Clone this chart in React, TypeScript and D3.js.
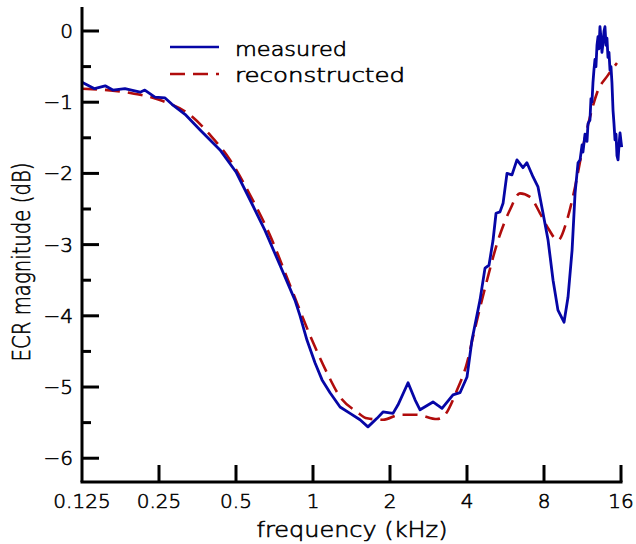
import React from "react";
import * as d3 from "d3";

// ---- data (frequency in kHz, magnitude in dB) ----
const measuredFreq = [
  0.125, 0.14, 0.154, 0.165, 0.184, 0.211, 0.22, 0.241, 0.264, 0.281, 0.316, 0.362, 0.433, 0.5,
  0.567, 0.649, 0.743, 0.85, 0.89, 0.947, 1.018, 1.085, 1.166, 1.276, 1.396, 1.527, 1.64, 1.779,
  1.878, 2.055, 2.15, 2.353, 2.506, 2.621, 2.945, 3.194, 3.526, 3.756, 4.0, 4.183, 4.496, 4.704,
  4.876, 5.056, 5.195, 5.384, 5.534, 5.733, 5.997, 6.27, 6.62, 6.86, 7.25, 7.58, 7.93, 8.3, 8.68,
  9.07, 9.58, 9.93, 10.3, 10.58, 10.87, 11.07, 11.27, 11.36, 11.57, 11.78, 11.89, 12.1, 12.21,
  12.32, 12.43, 12.54, 12.66, 12.77, 12.89, 13.01, 13.12, 13.24, 13.36, 13.48, 13.61, 13.73,
  13.85, 13.98, 14.1, 14.23, 14.36, 14.49, 14.62, 14.75, 14.89, 15.02, 15.16, 15.3, 15.43, 15.58,
  15.72, 15.86, 16.0, 16.1,
];
const measuredDb = [
  -0.72, -0.81, -0.77, -0.83, -0.81, -0.86, -0.83, -0.93, -0.94, -1.03, -1.17, -1.39, -1.67, -1.98,
  -2.37, -2.8, -3.29, -3.78, -4.0, -4.34, -4.66, -4.9, -5.08, -5.28, -5.37, -5.46, -5.56, -5.44,
  -5.35, -5.37, -5.25, -4.94, -5.18, -5.32, -5.21, -5.3, -5.11, -5.08, -4.86, -4.34, -3.78, -3.33,
  -3.29, -2.94, -2.56, -2.54, -2.42, -2.0, -2.02, -1.81, -1.92, -1.85, -2.05, -2.19, -2.56, -2.94,
  -3.5, -3.92, -4.09, -3.74, -3.08, -2.28, -1.85, -1.81, -1.6, -1.7, -1.45, -1.55, -1.3, -1.25,
  -0.95, -1.0, -0.73, -0.55, -0.4, -0.5, -0.2, -0.08, -0.25, 0.06, -0.1, -0.3, -0.17, 0.0, 0.06,
  -0.2, -0.1, -0.37, -0.3, -0.55, -0.5, -0.73, -1.11, -1.3, -1.53, -1.45, -1.75, -1.81, -1.6,
  -1.43, -1.55, -1.63,
];
const reconFreq = [
  0.125, 0.193, 0.252, 0.331, 0.396, 0.474, 0.567, 0.679, 0.813, 0.991, 1.134, 1.276, 1.486,
  1.626, 1.878, 2.19, 2.55, 3.05, 3.22, 3.66, 4.0, 4.22, 4.79, 5.29, 5.89, 6.44, 7.05, 7.72, 8.3,
  9.07, 9.85, 10.58, 11.36, 12.1, 12.89, 14.23, 15.43,
];
const reconDb = [
  -0.81, -0.87, -0.97, -1.18, -1.46, -1.81, -2.3, -2.87, -3.57, -4.34, -4.8, -5.14, -5.35, -5.44,
  -5.46, -5.39, -5.39, -5.45, -5.42, -5.04, -4.66, -4.3, -3.5, -2.94, -2.51, -2.28, -2.33, -2.56,
  -2.77, -2.94, -2.65, -2.19, -1.63, -1.21, -0.87, -0.62, -0.45,
];
const xTicks = [0.125, 0.25, 0.5, 1, 2, 4, 8, 16];
const xTickLabels = ["0.125", "0.25", "0.5", "1", "2", "4", "8", "16"];
const yMajor = [-6, -5, -4, -3, -2, -1, 0];
const yMinor = [-5.5, -4.5, -3.5, -2.5, -1.5, -0.5];
const legendLabels = ["measured", "reconstructed"];

const BLUE = "#0606a6";
const RED = "#b00c0c";
const FONT = "'DejaVu Sans', sans-serif";

export default function App() {
  const W = 636, H = 544;
  const x = d3.scaleLog().base(2).domain([0.125, 16]).range([82, 621]);
  const y = d3.scaleLinear().domain([-6.334, 0.337]).range([482, 7]);

  const measured = measuredFreq.map((f, i) => [f, measuredDb[i]] as [number, number]);
  const recon = reconFreq.map((f, i) => [f, reconDb[i]] as [number, number]);

  const lineM = d3.line<[number, number]>().x(d => x(d[0])).y(d => y(d[1])).curve(d3.curveLinear);
  const lineR = d3.line<[number, number]>().x(d => x(d[0])).y(d => y(d[1])).curve(d3.curveMonotoneX);

  const x0 = x.range()[0];
  const yb = y.range()[0];
  const txt = { fill: "#000", stroke: "#000", strokeWidth: 0.6 };

  return (
    <svg width={W} height={H} style={{ position: "absolute", left: 0, top: 0, background: "#fff" }}
      fontFamily={FONT} fontWeight={200}>
      {/* data */}
      <path d={lineR(recon) || ""} fill="none" stroke={RED} strokeWidth={2.6} strokeDasharray="15,8" />
      <path d={lineM(measured) || ""} fill="none" stroke={BLUE} strokeWidth={2.8} strokeLinejoin="round" />

      {/* axes */}
      <line x1={x0} x2={x0} y1={y.range()[1]} y2={yb} stroke="#000" strokeWidth={3} />
      <line x1={x0 - 1.5} x2={x.range()[1] + 1.5} y1={yb} y2={yb} stroke="#000" strokeWidth={3} />
      {yMajor.map(v => (
        <g key={"ym" + v}>
          <line x1={x0} x2={x0 + 17} y1={y(v)} y2={y(v)} stroke="#000" strokeWidth={3} />
          <text x={73} y={y(v) + 7} textAnchor="end" fontSize={20} {...txt}>{v < 0 ? "\u2212" + Math.abs(v) : String(v)}</text>
        </g>
      ))}
      {yMinor.map(v => (
        <line key={"yn" + v} x1={x0} x2={x0 + 9} y1={y(v)} y2={y(v)} stroke="#000" strokeWidth={3} />
      ))}
      {xTicks.map((t, i) => (
        <g key={"xt" + t}>
          {i > 0 && <line x1={x(t)} x2={x(t)} y1={yb} y2={yb - 17} stroke="#000" strokeWidth={3} />}
          <text x={x(t)} y={508} textAnchor="middle" fontSize={20} {...txt}>{xTickLabels[i]}</text>
        </g>
      ))}

      {/* titles */}
      <text x={352} y={537} textAnchor="middle" fontSize={22} textLength={191} lengthAdjust="spacingAndGlyphs" {...txt}>
        frequency (kHz)
      </text>
      <text transform="translate(30,262) rotate(-90)" textAnchor="middle" fontSize={24} textLength={199}
        lengthAdjust="spacingAndGlyphs" {...txt}>
        ECR magnitude (dB)
      </text>

      {/* legend */}
      <line x1={170} x2={219} y1={47} y2={47} stroke={BLUE} strokeWidth={2.6} />
      <line x1={170} x2={219} y1={74} y2={74} stroke={RED} strokeWidth={2.6} strokeDasharray="15,8" />
      <text x={235} y={56} fontSize={19} textLength={112} lengthAdjust="spacingAndGlyphs" {...txt}>{legendLabels[0]}</text>
      <text x={235} y={82} fontSize={19} textLength={170} lengthAdjust="spacingAndGlyphs" {...txt}>{legendLabels[1]}</text>
    </svg>
  );
}
